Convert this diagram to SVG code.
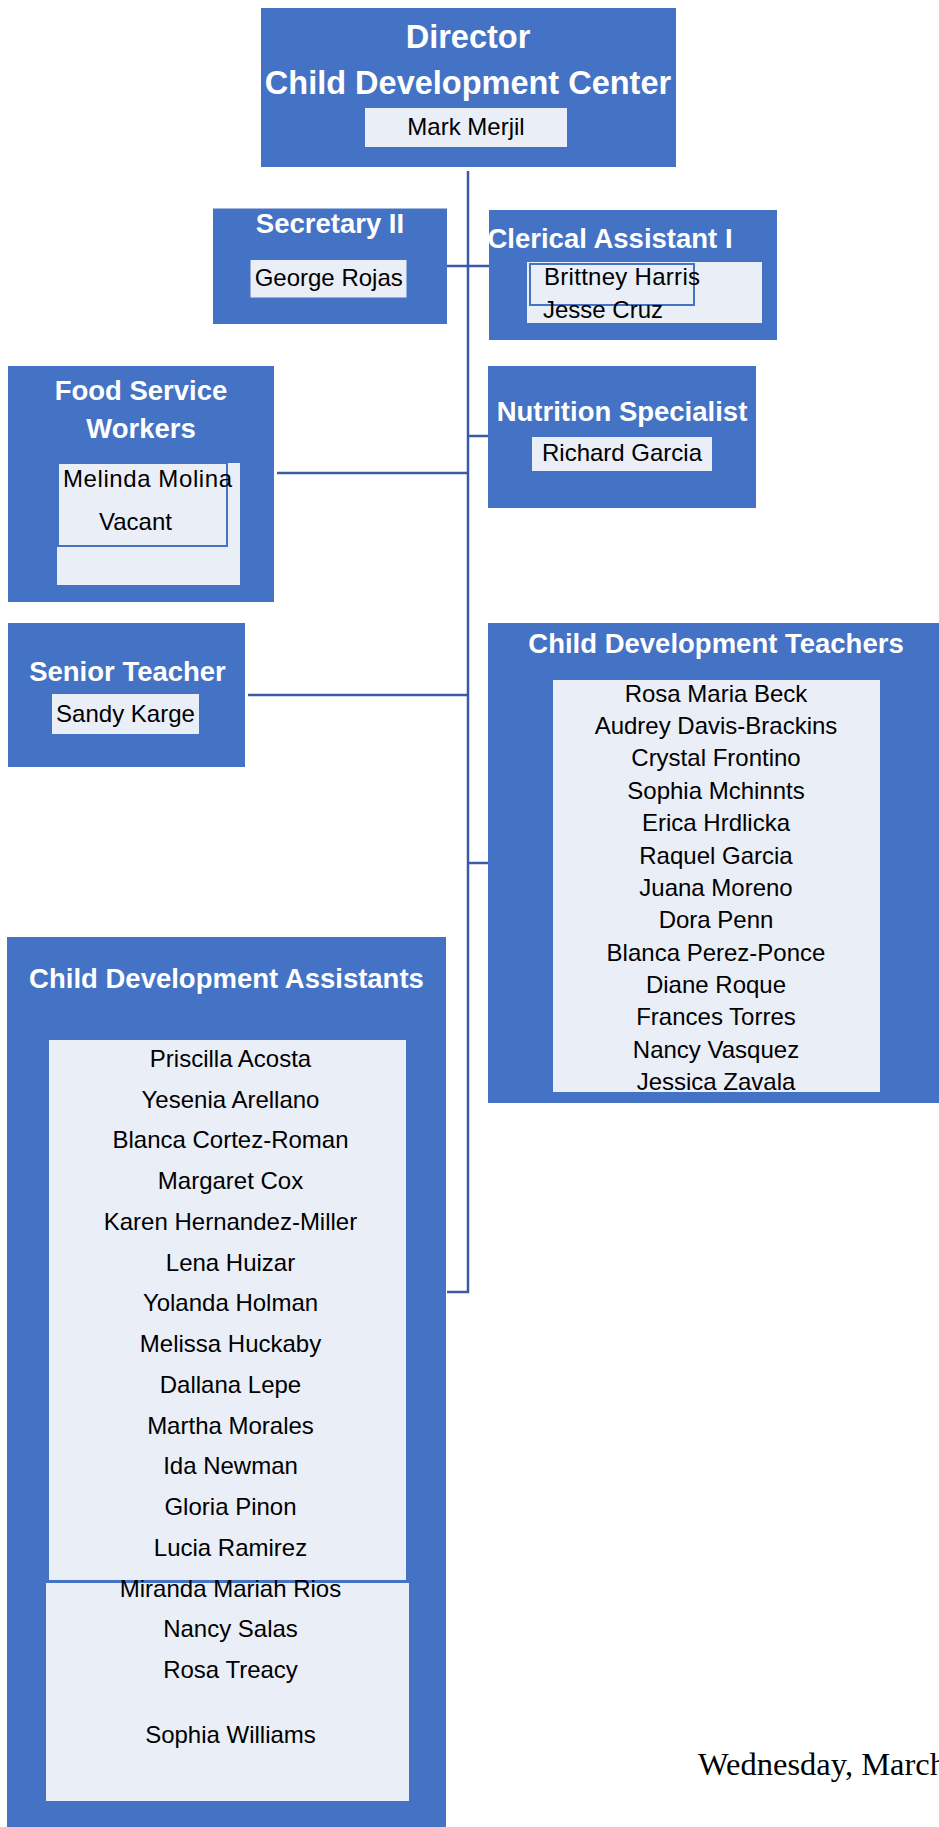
<svg xmlns="http://www.w3.org/2000/svg" width="939" height="1827" viewBox="0 0 939 1827">
<style>
.box{fill:#4472C4}
.pale{fill:#EAEEF7}
.outl{fill:#EAEEF7;stroke:#4472C4;stroke-width:2}
.t{font-family:"Liberation Sans",Arial,sans-serif;font-weight:bold;font-size:27.5px;fill:#fff;text-anchor:middle}
.big{font-size:32.5px}
.n{font-family:"Liberation Sans",Arial,sans-serif;font-size:24px;fill:#000;text-anchor:middle}
.s{text-anchor:start}
.conn{stroke:#3B5BA5;stroke-width:2.5;fill:none}
</style>
<rect width="939" height="1827" fill="#fff"/>
<g id="connectors">
<path class="conn" d="M468,171 V1292 H447"/>
<path class="conn" d="M447,266 H489"/>
<path class="conn" d="M277,473 H468"/>
<path class="conn" d="M468,436 H488"/>
<path class="conn" d="M248,695 H468"/>
<path class="conn" d="M468,863 H488"/>
</g>
<g id="director">
<rect class="box" x="261" y="8" width="415" height="159"/>
<text class="t big" x="468" y="48">Director</text>
<text class="t big" x="468" y="94">Child Development Center</text>
<rect class="pale" x="365" y="108" width="202" height="39"/>
<text class="n" x="466" y="135">Mark Merjil</text>
</g>
<g id="secretary">
<rect class="box" x="213" y="208.5" width="234" height="115.5"/>
<text class="t" x="330" y="233">Secretary II</text>
<rect class="pale" x="250.5" y="260" width="156" height="37.5"/>
<text class="n" x="328.7" y="285.7">George Rojas</text>
</g>
<g id="clerical">
<rect class="box" x="489" y="210" width="288" height="130"/>
<text class="t" x="610" y="248">Clerical Assistant I</text>
<rect class="pale" x="527" y="262" width="235" height="61"/>
<rect class="outl" x="530" y="264" width="164" height="41"/>
<text class="n s" x="544" y="285" textLength="156">Brittney Harris</text>
<text class="n s" x="543" y="318">Jesse Cruz</text>
</g>
<g id="food">
<rect class="box" x="8" y="366" width="266" height="236"/>
<text class="t" x="141" y="400">Food Service</text>
<text class="t" x="141" y="438">Workers</text>
<rect class="pale" x="57" y="463" width="183" height="122"/>
<rect class="outl" x="58" y="463" width="169" height="83"/>
<text class="n s" x="63" y="487" textLength="169">Melinda Molina</text>
<text class="n s" x="99" y="530">Vacant</text>
</g>
<g id="nutrition">
<rect class="box" x="488" y="366" width="268" height="142"/>
<text class="t" x="622" y="421">Nutrition Specialist</text>
<rect class="pale" x="532" y="437" width="180" height="34"/>
<text class="n" x="622" y="461">Richard Garcia</text>
</g>
<g id="senior">
<rect class="box" x="8" y="623" width="237" height="144"/>
<text class="t" x="127.5" y="681">Senior Teacher</text>
<rect class="pale" x="52" y="694" width="147" height="40"/>
<text class="n" x="125.5" y="722">Sandy Karge</text>
</g>
<g id="teachers">
<rect class="box" x="488" y="623" width="460" height="480"/>
<text class="t" x="716" y="653">Child Development Teachers</text>
<rect class="pale" x="553" y="680" width="327" height="412"/>
<text class="n" x="716" y="701.7">Rosa Maria Beck</text>
<text class="n" x="716" y="734">Audrey Davis-Brackins</text>
<text class="n" x="716" y="766.4">Crystal Frontino</text>
<text class="n" x="716" y="798.8">Sophia Mchinnts</text>
<text class="n" x="716" y="831.1">Erica Hrdlicka</text>
<text class="n" x="716" y="863.5">Raquel Garcia</text>
<text class="n" x="716" y="895.9">Juana Moreno</text>
<text class="n" x="716" y="928.2">Dora Penn</text>
<text class="n" x="716" y="960.6">Blanca Perez-Ponce</text>
<text class="n" x="716" y="993">Diane Roque</text>
<text class="n" x="716" y="1025.3">Frances Torres</text>
<text class="n" x="716" y="1057.7">Nancy Vasquez</text>
<text class="n" x="716" y="1090">Jessica Zavala</text>
</g>
<g id="assistants">
<rect class="box" x="7" y="937" width="439" height="900"/>
<text class="t" x="226.5" y="988">Child Development Assistants</text>
<rect class="pale" x="46" y="1583" width="363" height="218"/>
<rect class="outl" x="48" y="1039" width="359" height="542"/>
<text class="n" x="230.5" y="1066.7">Priscilla Acosta</text>
<text class="n" x="230.5" y="1107.5">Yesenia Arellano</text>
<text class="n" x="230.5" y="1148.2">Blanca Cortez-Roman</text>
<text class="n" x="230.5" y="1189">Margaret Cox</text>
<text class="n" x="230.5" y="1229.7">Karen Hernandez-Miller</text>
<text class="n" x="230.5" y="1270.5">Lena Huizar</text>
<text class="n" x="230.5" y="1311.2">Yolanda Holman</text>
<text class="n" x="230.5" y="1352">Melissa Huckaby</text>
<text class="n" x="230.5" y="1392.7">Dallana Lepe</text>
<text class="n" x="230.5" y="1433.5">Martha Morales</text>
<text class="n" x="230.5" y="1474.2">Ida Newman</text>
<text class="n" x="230.5" y="1515">Gloria Pinon</text>
<text class="n" x="230.5" y="1555.7">Lucia Ramirez</text>
<text class="n" x="230.5" y="1596.5">Miranda Mariah Rios</text>
<text class="n" x="230.5" y="1637.2">Nancy Salas</text>
<text class="n" x="230.5" y="1678">Rosa Treacy</text>
<text class="n" x="230.5" y="1743.3">Sophia Williams</text>
</g>
<text x="698" y="1775" font-family="Liberation Serif,Times New Roman,serif" font-size="32.5" fill="#000">Wednesday, March</text>
</svg>
